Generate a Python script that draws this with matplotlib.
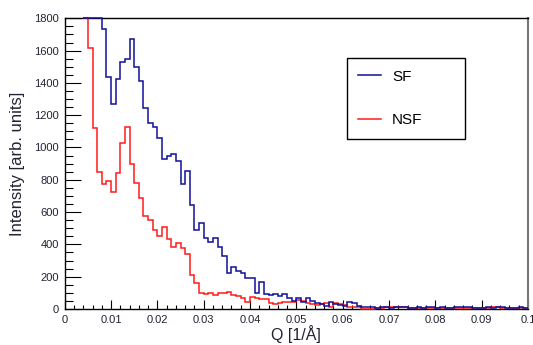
import matplotlib
matplotlib.use('Agg')
import matplotlib.pyplot as plt
import numpy as np

plt.rcParams['font.family'] = ['Liberation Sans', 'DejaVu Sans']

# histogram bins, 0.001 wide, starting at Q = 0.004 (values above 1800 shown clipped at the frame top)
bin_start = 0.004
bin_width = 0.001
sf_counts = [1800, 1800, 1800, 1800, 1733, 1438, 1267, 1422, 1531, 1548,
             1669, 1500, 1411, 1246, 1153, 1125, 1056, 926, 949, 958,
             916, 774, 856, 644, 489, 530, 437, 413, 437, 382,
             328, 221, 262, 237, 221, 190, 190, 97, 169, 93,
             85, 91, 80, 91, 70, 52, 66, 45, 66, 50,
             39, 33, 19, 45, 33, 27, 19, 45, 39, 19,
             10, 10, 10,
             8, 12, 10, 8, 10, 12, 10, 8, 6, 10, 8, 12, 10, 8, 10, 6, 8,
             12, 10, 14, 10, 8, 8, 6, 10, 8, 10, 12, 8, 6, 8, 10, 8]
nsf_counts = [1800, 1614, 1118, 850, 774, 794, 726, 840, 1030, 1125,
              898, 778, 689, 576, 551, 489, 452, 506, 431, 386,
              411, 375, 338, 210, 159, 101, 91, 101, 88, 97,
              97, 107, 87, 82, 68, 45, 76, 70, 60, 60,
              40, 30, 40, 45, 45, 45, 56, 52, 39, 33,
              27, 33, 35, 10, 35, 30, 27, 15, 15, 15,
              2, 2, 2,
              5, 8, 12, 15, 12, 10, 10, 8, 6, 8, 5, 4, 6, 5, 4, 6, 8,
              5, 4, 6, 5, 6, 8, 4, 5, 10, 12, 8, 5, 4, 6, 8, 5]

xticks = [0, 0.01, 0.02, 0.03, 0.04, 0.05, 0.06, 0.07, 0.08, 0.09, 0.1]
xtick_labels = ['0', '0.01', '0.02', '0.03', '0.04', '0.05', '0.06', '0.07', '0.08', '0.09', '0.1']
yticks = [0, 200, 400, 600, 800, 1000, 1200, 1400, 1600, 1800]
ytick_labels = ['0', '200', '400', '600', '800', '1000', '1200', '1400', '1600', '1800']

edges_sf = bin_start + bin_width * np.arange(len(sf_counts) + 1)
edges_nsf = bin_start + bin_width * np.arange(len(nsf_counts) + 1)

fig = plt.figure(figsize=(5.33, 3.45), dpi=100)
ax = fig.add_axes([0.1214, 0.1043, 0.8692, 0.8427])

ax.stairs(nsf_counts, edges_nsf, baseline=None, color='#ff1a1a', lw=1.1,
          label='NSF', zorder=3, clip_on=False)
ax.stairs(sf_counts, edges_sf, baseline=None, color='#10109a', lw=1.1,
          label='SF', zorder=4, clip_on=False)

ax.set_xlim(0, 0.1)
ax.set_ylim(0, 1800)
ax.set_xticks(xticks)
ax.set_xticklabels(xtick_labels)
ax.set_yticks(yticks)
ax.set_yticklabels(ytick_labels)
ax.set_xticks(np.arange(0, 0.1001, 0.002), minor=True)
ax.set_yticks(np.arange(0, 1801, 50), minor=True)

ax.tick_params(axis='both', which='both', direction='in', top=False, right=False,
               labelsize=8, labelcolor='#222233', width=0.8)
ax.tick_params(axis='y', which='major', length=11.5, pad=4)
ax.tick_params(axis='y', which='minor', length=5.8)
ax.tick_params(axis='x', which='major', length=6.3, pad=4)
ax.tick_params(axis='x', which='minor', length=3.2)

for s in ['top', 'left', 'bottom']:
    ax.spines[s].set_color('black')
    ax.spines[s].set_linewidth(1.0)
ax.spines['right'].set_color('#777777')
ax.spines['right'].set_linewidth(1.5)

ax.set_xlabel('Q [1/Å]', fontsize=11.5, color='#222233', labelpad=0)
ax.set_ylabel('Intensity [arb. units]', fontsize=12, color='#222233', labelpad=7)

handles, labels = ax.get_legend_handles_labels()
leg = ax.legend(handles[::-1], labels[::-1], loc='upper left',
                bbox_to_anchor=(0.609, 0.588, 0.255, 0.275), mode='expand',
                fontsize=11, frameon=True, fancybox=False, shadow=False,
                edgecolor='black', framealpha=1, borderpad=0.75,
                labelspacing=1.95, handlelength=1.5, handletextpad=0.7,
                borderaxespad=0)
leg.get_frame().set_linewidth(1.0)

fig.savefig('out.png', dpi=100)
